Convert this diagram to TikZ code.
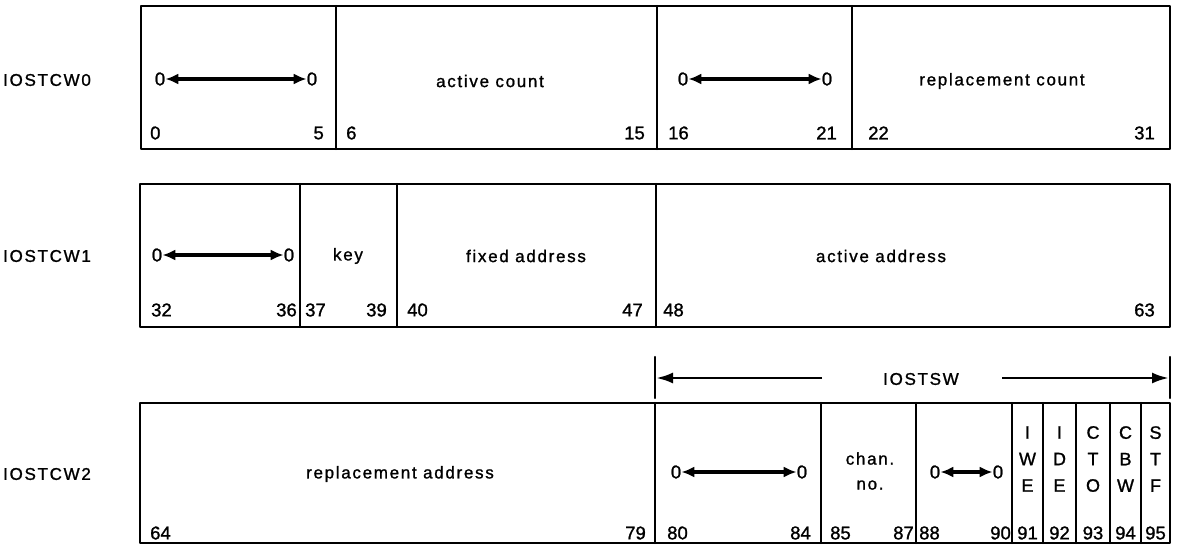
\documentclass[tikz,border=0pt]{standalone}
\usepackage{fontspec}
\setmainfont{Liberation Sans}[FakeBold=1.2]
\newfontfamily\spacedfont{Liberation Sans}[LetterSpace=10,FakeBold=1.2]
\usetikzlibrary{arrows.meta}

\tikzset{
  frame/.style={line width=2.4pt,line cap=round,line join=round},
  wordlab/.style={font=\fontsize{17}{20}\spacedfont,inner sep=0pt},
  bitlab/.style={font=\fontsize{18.5}{20}\selectfont,inner sep=0pt},
  flaglab/.style={font=\fontsize{18}{26.5}\selectfont,inner sep=0pt,align=center},
  zarrow/.style={line width=3.4pt,{Latex[length=13pt,width=11pt]}-{Latex[length=13pt,width=11pt]}},
  swarrow/.style={line width=2.8pt,-{Latex[length=17pt,width=11pt]}},
}

\begin{document}
\begin{tikzpicture}[x=1pt,y=-1pt]
\useasboundingbox (0,0) rectangle (1177,544);
% word 0
\node[wordlab,anchor=west] (w0) at (3,80) {IOSTCW0};
\draw[frame] (141,6) rectangle (1170,149);
\foreach \x in {336,657,852} \draw[frame] (\x,6) -- (\x,149);
\node[bitlab] (z0a) at (160,79) {0};
\node[bitlab] (z0b) at (312,79) {0};
\draw[zarrow] (z0a.east) -- (z0b.west);
\node[wordlab] (actc) at (490,81) {active count};
\node[bitlab] (z0c) at (683,79) {0};
\node[bitlab] (z0d) at (827,79) {0};
\draw[zarrow] (z0c.east) -- (z0d.west);
\node[wordlab] (repc) at (1002,81) {replacement count};
\node[bitlab,anchor=west] at (150,133) {0};
\node[bitlab,anchor=east] at (324,133) {5};
\node[bitlab,anchor=west] at (346,133) {6};
\node[bitlab,anchor=east] at (645,133) {15};
\node[bitlab,anchor=west] at (668,133) {16};
\node[bitlab,anchor=east] at (837,133) {21};
\node[bitlab,anchor=west] at (868,133) {22};
\node[bitlab,anchor=east] at (1155,133) {31};
% word 1
\node[wordlab,anchor=west] (w1) at (3,256) {IOSTCW1};
\draw[frame] (140,184) rectangle (1170,327);
\foreach \x in {300,397,656} \draw[frame] (\x,184) -- (\x,327);
\node[bitlab] (z1a) at (157,255) {0};
\node[bitlab] (z1b) at (289,255) {0};
\draw[zarrow] (z1a.east) -- (z1b.west);
\node[wordlab] (key) at (348,256) {key};
\node[wordlab] (fixa) at (526,256) {fixed address};
\node[wordlab] (acta) at (881,256) {active address};
\node[bitlab,anchor=west] at (151,310) {32};
\node[bitlab,anchor=east] at (297,310) {36};
\node[bitlab,anchor=west] at (305,310) {37};
\node[bitlab,anchor=east] at (387,310) {39};
\node[bitlab,anchor=west] at (407,310) {40};
\node[bitlab,anchor=east] at (643,310) {47};
\node[bitlab,anchor=west] at (663,310) {48};
\node[bitlab,anchor=east] at (1155,310) {63};
% status word bracket
\node[wordlab] (sw) at (921,379) {IOSTSW};
\draw[frame] (655,357) -- (655,398);
\draw[frame] (1170,357) -- (1170,398);
\coordinate (swl) at (822,378);
\coordinate (swr) at (1002,378);
\coordinate (tickl) at (656,378);
\coordinate (tickr) at (1169,378);
\draw[swarrow] (swl) -- (tickl);
\draw[swarrow] (swr) -- (tickr);
% word 2
\node[wordlab,anchor=west] (w2) at (3,474) {IOSTCW2};
\draw[frame] (140,403) rectangle (1170,543);
\foreach \x in {655,821,916,1012,1043,1076,1110,1141} \draw[frame] (\x,403) -- (\x,543);
\node[wordlab] (repa) at (400,474) {replacement address};
\node[bitlab] (z2a) at (676,472) {0};
\node[bitlab] (z2b) at (802,472) {0};
\draw[zarrow] (z2a.east) -- (z2b.west);
\node[flaglab,font=\fontsize{17}{25}\spacedfont] (chan) at (870,471) {chan.\\no.};
\node[bitlab] (z2c) at (935,472) {0};
\node[bitlab] (z2d) at (998,472) {0};
\draw[zarrow] (z2c.east) -- (z2d.west);
\node[flaglab] (iwe) at (1027.5,459) {I\\W\\E};
\node[flaglab] (ide) at (1059.5,459) {I\\D\\E};
\node[flaglab] (cto) at (1093,459) {C\\T\\O};
\node[flaglab] (cbw) at (1125.5,459) {C\\B\\W};
\node[flaglab] (stf) at (1155.5,459) {S\\T\\F};
\node[bitlab,anchor=west] at (150,533) {64};
\node[bitlab,anchor=east] at (646,533) {79};
\node[bitlab,anchor=west] at (667,533) {80};
\node[bitlab,anchor=east] at (811,533) {84};
\node[bitlab,anchor=west] at (830,533) {85};
\node[bitlab,anchor=east] at (914,533) {87};
\node[bitlab,anchor=west] at (919,533) {88};
\node[bitlab,anchor=east] at (1011,533) {90};
\node[bitlab] at (1027.5,533) {91};
\node[bitlab] at (1059.5,533) {92};
\node[bitlab] at (1093,533) {93};
\node[bitlab] at (1125.5,533) {94};
\node[bitlab] at (1155.5,533) {95};
\end{tikzpicture}
\end{document}
